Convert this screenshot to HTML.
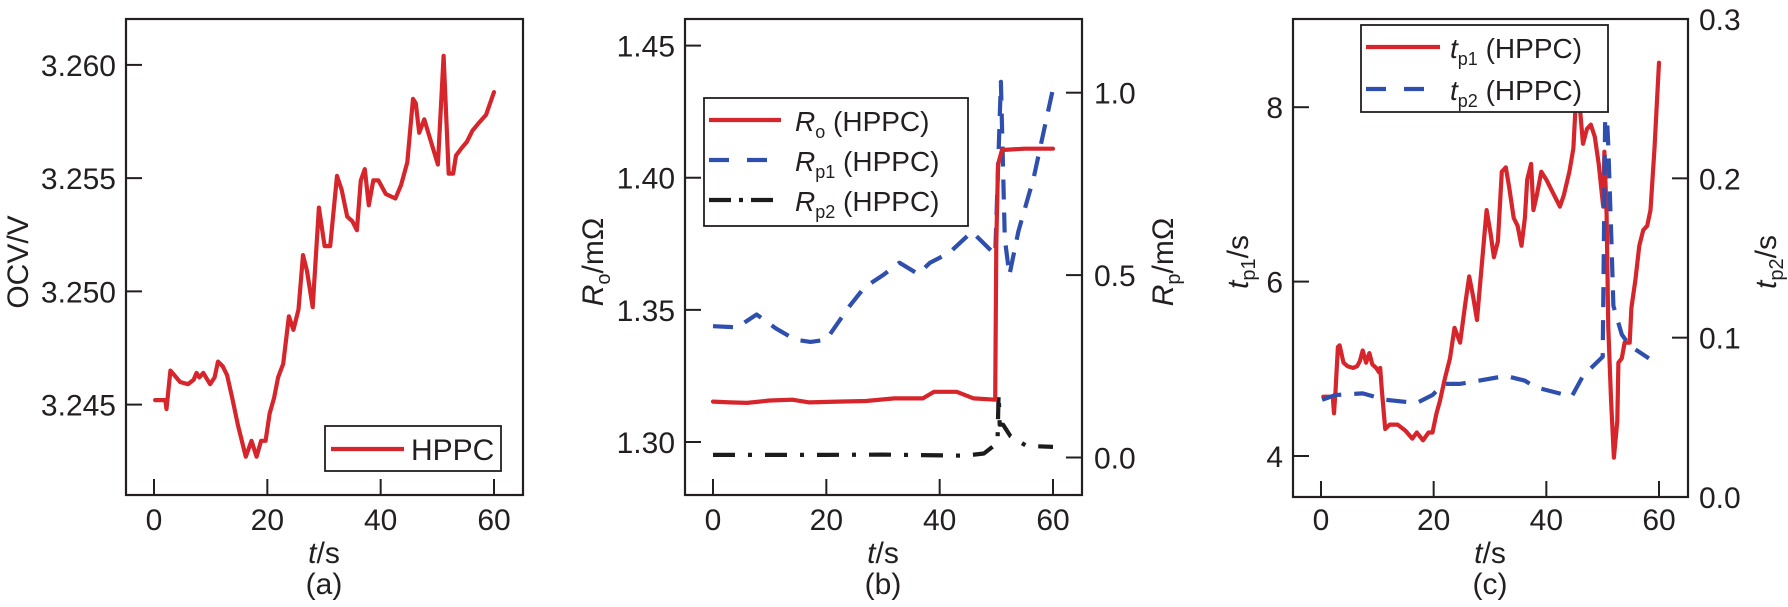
<!DOCTYPE html>
<html><head><meta charset="utf-8"><style>
html,body{margin:0;padding:0;background:#fff;}
svg{display:block;font-family:"Liberation Sans",Arial,sans-serif;}
</style></head><body>
<svg id="fig" width="1788" height="607" viewBox="0 0 1788 607"></svg>
<script>
// ---- Panel (a) data: OCV ----
const aTime=[0.2,2.0,2.2,2.9,3.6,4.6,6.0,7.0,7.5,8.0,8.7,9.9,10.7,11.3,12.1,12.9,13.8,14.8,16.2,17.2,18.1,18.9,19.7,20.4,21.2,21.9,22.8,23.8,24.6,25.5,26.3,27.0,28.0,29.1,30.1,31.1,32.3,33.1,34.1,35.0,35.8,36.5,37.2,37.9,38.7,39.6,40.9,42.6,43.6,44.7,45.7,46.2,46.8,47.7,48.4,50.1,51.1,52.0,52.8,53.3,54.2,55.2,56.2,57.2,58.6,60.0];
const aOCV=[3.2452,3.2452,3.2448,3.2465,3.2463,3.2460,3.2459,3.2461,3.2464,3.2462,3.2464,3.2459,3.2462,3.2469,3.2467,3.2463,3.2453,3.2441,3.2427,3.2434,3.2427,3.2434,3.2434,3.2446,3.2453,3.2462,3.2468,3.2489,3.2483,3.2492,3.2516,3.2509,3.2493,3.2537,3.2520,3.2520,3.2551,3.2545,3.2533,3.2531,3.2527,3.2549,3.2554,3.2538,3.2549,3.2549,3.2543,3.2541,3.2547,3.2557,3.2585,3.2583,3.2570,3.2576,3.2570,3.2556,3.2604,3.2552,3.2552,3.2560,3.2563,3.2566,3.2571,3.2574,3.2578,3.2588];
const aYTicks=[3.245,3.250,3.255,3.260];
const xTicks=[0,20,40,60];
// ---- Panel (b) data ----
const roTime=[0,3,6,10,14,17,22,27,32,37,39,43,46,49.8,50,50.3,51,55,60];
const roVal=[1.3153,1.3150,1.3148,1.3157,1.3160,1.3150,1.3153,1.3155,1.3165,1.3165,1.3190,1.3190,1.3165,1.3160,1.375,1.405,1.4105,1.411,1.411];
const rp1Time=[0,4.3,7.7,11.1,14.5,17.2,20,24,26.7,30.1,32.9,36.2,38.3,41.7,45.7,49.8,50.8,51.5,52.3,53.9,56.6,60];
const rp1Val=[0.360,0.357,0.392,0.354,0.323,0.317,0.323,0.413,0.466,0.501,0.534,0.503,0.534,0.561,0.619,0.556,1.03,0.6,0.50,0.62,0.767,1.011];
const rp2Time=[0,20,30,44.4,47.8,50.2,50.4,50.6,51.2,52.5,55.3,60];
const rp2Val=[0.007,0.007,0.008,0.005,0.011,0.04,0.175,0.09,0.09,0.058,0.032,0.029];
const bLeftTicks=[1.30,1.35,1.40,1.45];
const bRightTicks=[0.0,0.5,1.0];
// ---- Panel (c) data ----
const tp1Time=[0.4,2.1,2.3,2.6,3.0,3.3,4.0,4.7,5.7,6.4,6.9,7.4,8.0,8.6,9.1,9.8,10.3,10.5,10.8,11.4,12.2,13.6,15.0,16.2,17.0,18.1,19.1,19.8,20.5,21.1,22.0,22.9,23.7,24.7,25.6,26.3,27.0,27.7,28.3,29.4,30.1,30.7,31.4,32.1,32.8,33.4,34.2,34.9,35.6,36.2,36.6,37.3,37.7,38.3,39.1,40.0,41.0,42.4,43.1,44.1,44.8,45.2,45.8,46.5,47.2,47.9,48.6,49.3,50.1,50.3,50.7,51.0,51.5,52.0,52.6,52.8,53.4,53.9,54.8,55.1,55.8,56.5,57.2,57.9,58.5,59.2,60.0];
const tp1Val=[4.68,4.68,4.49,4.76,5.25,5.27,5.07,5.03,5.01,5.03,5.09,5.21,5.07,5.18,5.05,5.01,4.96,5.01,4.76,4.31,4.36,4.36,4.29,4.20,4.27,4.18,4.27,4.27,4.49,4.63,4.89,5.12,5.47,5.30,5.74,6.06,5.83,5.56,6.01,6.82,6.55,6.28,6.46,7.26,7.31,7.08,6.73,6.64,6.41,6.73,7.17,7.35,6.82,6.99,7.26,7.17,7.04,6.86,6.99,7.26,7.53,8.02,8.11,7.58,7.75,7.80,7.66,7.35,6.86,7.49,6.77,5.47,4.63,3.98,4.40,5.07,5.12,5.30,5.30,5.70,6.01,6.41,6.59,6.64,6.82,7.53,8.51];
const tp2Time=[0.2,2.6,7.4,11.5,17.0,19.8,21.8,24.6,28.0,32.8,36.2,38.0,44.5,46.5,50.0,50.5,51.0,51.5,51.9,53.4,54.8,58.2];
const tp2Val=[0.061,0.064,0.065,0.061,0.059,0.064,0.071,0.071,0.073,0.076,0.073,0.069,0.063,0.076,0.088,0.259,0.22,0.167,0.12,0.102,0.095,0.087];
const cLeftTicks=[4,6,8];
const cRightTicks=[0.0,0.1,0.2,0.3];

const NS='http://www.w3.org/2000/svg';
const svg=document.getElementById('fig');
const RED='#d6262c',BLUE='#2f4fae',BLK='#1c1c1c',AX='#231f20';
function el(tag,attrs,parent){const e=document.createElementNS(NS,tag);for(const k in attrs)e.setAttribute(k,attrs[k]);(parent||svg).appendChild(e);return e;}
function lin(d0,d1,r0,r1){return v=>r0+(v-d0)*(r1-r0)/(d1-d0);}
function txt(x,y,s,anchor,size,parent,name){const t=el('text',{x:x,y:y,'text-anchor':anchor,'font-size':size,fill:'#231f20'},parent);t.textContent=s;return t;}
function poly(xs,ys,X,Y,color,dash,g,name){const d=xs.map((t,i)=>X(t).toFixed(1)+','+Y(ys[i]).toFixed(1)).join(' ');const p=el('polyline',{points:d,fill:'none',stroke:color,'stroke-width':4.2,'stroke-linejoin':'round','stroke-linecap':dash?'butt':'round'},g);if(dash)p.setAttribute('stroke-dasharray',dash);return p;}
function frame(g,L,R,T,B){const r=el('rect',{x:L,y:T,width:R-L,height:B-T,fill:'none',stroke:AX,'stroke-width':2.2},g);}
function xaxis(g,X,B,label,sub){xTicks.forEach(v=>{const l=el('line',{x1:X(v),x2:X(v),y1:B,y2:B-16,stroke:AX,'stroke-width':2},g);txt(X(v),530,String(v),'middle',30,g,'x-tick-label');});
 const cx=(X(0)+X(60))/2;
 const t=el('text',{x:cx,y:563,'text-anchor':'middle','font-size':30,fill:'#231f20'},g);t.innerHTML='<tspan font-style="italic">t</tspan>/s';
 txt(cx,594,sub,'middle',30,g,'panel-label');}

// ===== Panel (a) =====
(function(){const g=el('g',{});
const L=126,R=523,T=19,B=495;const X=lin(0,60,154,494);const Y=lin(3.245,3.260,404.6,64.9);
frame(g,L,R,T,B);xaxis(g,X,B,'t/s','(a)');
aYTicks.forEach(v=>{const l=el('line',{x1:L,x2:L+16,y1:Y(v),y2:Y(v),stroke:AX,'stroke-width':2},g);txt(116,Y(v)+11,v.toFixed(3),'end',30,g,'y-tick-label');});
const yt=txt(0,0,'OCV/V','middle',30,g,'y-axis-title');yt.setAttribute('transform','translate(28,262) rotate(-90)');
poly(aTime,aOCV,X,Y,RED,null,g,'ocv-line');
const lg=el('g',{},g);
el('rect',{x:325,y:426,width:176,height:45,fill:'#fff',stroke:AX,'stroke-width':1.8},lg);
el('line',{x1:331,x2:404,y1:449,y2:449,stroke:RED,'stroke-width':4.2},lg);
txt(411,460,'HPPC','start',30,lg,'legend-entry');
})();

// ===== Panel (b) =====
(function(){const g=el('g',{});
const L=685,R=1082,T=19,B=495;const X=lin(0,60,713,1053);const Y=lin(1.30,1.45,442,45.6);const Y2=lin(0,1,457.5,92.7);
frame(g,L,R,T,B);xaxis(g,X,B,'t/s','(b)');
bLeftTicks.forEach(v=>{const l=el('line',{x1:L,x2:L+16,y1:Y(v),y2:Y(v),stroke:AX,'stroke-width':2},g);txt(675,Y(v)+11,v.toFixed(2),'end',30,g,'left-y-tick-label');});
bRightTicks.forEach(v=>{const l=el('line',{x1:R-16,x2:R,y1:Y2(v),y2:Y2(v),stroke:AX,'stroke-width':2},g);txt(1094,Y2(v)+11,v.toFixed(1),'start',30,g,'right-y-tick-label');});
const yl=el('text',{'font-size':30,'text-anchor':'middle',fill:'#231f20',transform:'translate(603,262) rotate(-90)'},g);yl.innerHTML='<tspan font-style="italic">R</tspan><tspan font-size="20" dy="7">o</tspan><tspan dy="-7">/mΩ</tspan>';
const yr=el('text',{'font-size':30,'text-anchor':'middle',fill:'#231f20',transform:'translate(1173,262) rotate(-90)'},g);yr.innerHTML='<tspan font-style="italic">R</tspan><tspan font-size="20" dy="7">p</tspan><tspan dy="-7">/mΩ</tspan>';
poly(rp1Time,rp1Val,X,Y2,BLUE,'20,13',g,'rp1-line');
poly(rp2Time,rp2Val,X,Y2,BLK,'22,13,4,13',g,'rp2-line');
poly(roTime,roVal,X,Y,RED,null,g,'ro-line');
const lg=el('g',{},g);
el('rect',{x:704,y:98,width:264,height:128,fill:'#fff',stroke:AX,'stroke-width':1.8},lg);
const rows=[['o',RED,null],['p1',BLUE,'20,18'],['p2',BLK,'22,8,4,8']];
rows.forEach((r,i)=>{const y=120+i*40;const ln=el('line',{x1:709,x2:781,y1:y,y2:y,stroke:r[1],'stroke-width':4.2},lg);if(r[2])ln.setAttribute('stroke-dasharray',r[2]);
 const t=el('text',{x:795,y:y+11,'font-size':28,fill:'#231f20'},lg);t.innerHTML='<tspan font-style="italic">R</tspan><tspan font-size="18" dy="7">'+r[0]+'</tspan><tspan dy="-7"> (HPPC)</tspan>';});
})();

// ===== Panel (c) =====
(function(){const g=el('g',{});
const L=1293,R=1688,T=19,B=497;const X=lin(0,60,1321,1659);const Y=lin(4,8,456,107.2);const Y2=lin(0,0.3,497,19);
frame(g,L,R,T,B);xaxis(g,X,B,'t/s','(c)');
cLeftTicks.forEach(v=>{const l=el('line',{x1:L,x2:L+16,y1:Y(v),y2:Y(v),stroke:AX,'stroke-width':2},g);txt(1283,Y(v)+11,String(v),'end',30,g,'left-y-tick-label');});
cRightTicks.forEach(v=>{const l=el('line',{x1:R-16,x2:R,y1:Y2(v),y2:Y2(v),stroke:AX,'stroke-width':2},g);txt(1699,Y2(v)+11,v.toFixed(1),'start',30,g,'right-y-tick-label');});
const yl=el('text',{'font-size':30,'text-anchor':'middle',fill:'#231f20',transform:'translate(1248,262) rotate(-90)'},g);yl.innerHTML='<tspan font-style="italic">t</tspan><tspan font-size="20" dy="7">p1</tspan><tspan dy="-7">/s</tspan>';
const yr=el('text',{'font-size':30,'text-anchor':'middle',fill:'#231f20',transform:'translate(1776,262) rotate(-90)'},g);yr.innerHTML='<tspan font-style="italic">t</tspan><tspan font-size="20" dy="7">p2</tspan><tspan dy="-7">/s</tspan>';
poly(tp1Time,tp1Val,X,Y,RED,null,g,'tp1-line');
poly(tp2Time,tp2Val,X,Y2,BLUE,'20,13',g,'tp2-line');
const lg=el('g',{},g);
el('rect',{x:1361,y:25,width:247,height:87,fill:'#fff',stroke:AX,'stroke-width':1.8},lg);
const rows=[['p1',RED,null],['p2',BLUE,'20,18']];
rows.forEach((r,i)=>{const y=47+i*42;const ln=el('line',{x1:1366,x2:1440,y1:y,y2:y,stroke:r[1],'stroke-width':4.2},lg);if(r[2])ln.setAttribute('stroke-dasharray',r[2]);
 const t=el('text',{x:1450,y:y+11,'font-size':28,fill:'#231f20'},lg);t.innerHTML='<tspan font-style="italic">t</tspan><tspan font-size="18" dy="7">'+r[0]+'</tspan><tspan dy="-7"> (HPPC)</tspan>';});
})();
</script>
</body></html>
